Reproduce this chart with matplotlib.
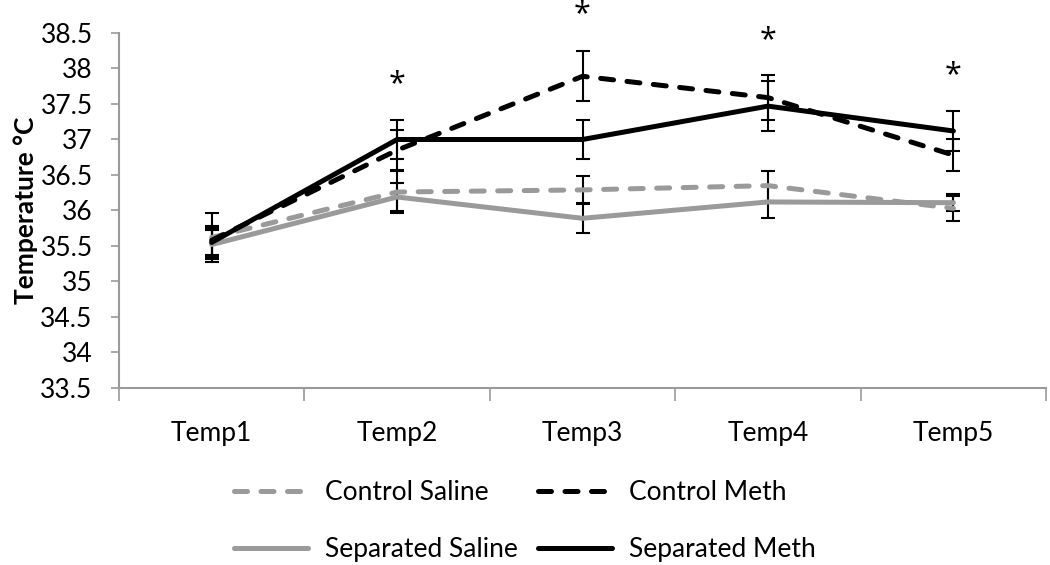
import matplotlib.pyplot as plt

# ---- data ----
categories = ['Temp1', 'Temp2', 'Temp3', 'Temp4', 'Temp5']
control_saline = [35.62, 36.26, 36.29, 36.35, 36.03]
control_saline_err = [0.35, 0.30, 0.20, 0.21, 0.18]
control_meth = [35.58, 36.85, 37.89, 37.59, 36.78]
control_meth_err = [0.20, 0.28, 0.35, 0.32, 0.23]
separated_saline = [35.52, 36.19, 35.89, 36.12, 36.11]
separated_saline_err = [0.20, 0.20, 0.21, 0.23, 0.12]
separated_meth = [35.55, 37.00, 37.00, 37.47, 37.12]
separated_meth_err = [0.20, 0.28, 0.28, 0.35, 0.28]
star_idx = [1, 2, 3, 4]
star_y = [37.78, 38.76, 38.40, 37.90]

GRAY = '#9a9a9a'
FS = 19
plt.rcParams['font.family'] = ['Lato', 'DejaVu Sans']

fig = plt.figure(figsize=(10.5, 5.65), dpi=100)
ax = fig.add_axes([0.1133, 0.3133, 0.883, 0.6283])

x = list(range(len(categories)))
dash = (0, (2.6, 2.7))
series = [
    (control_saline, control_saline_err, GRAY, dash, 'Control Saline'),
    (control_meth, control_meth_err, 'black', dash, 'Control Meth'),
    (separated_saline, separated_saline_err, GRAY, '-', 'Separated Saline'),
    (separated_meth, separated_meth_err, 'black', '-', 'Separated Meth'),
]
handles = {}
for vals, errs, col, ls, lab in series:
    ax.errorbar(x, vals, yerr=errs, fmt='none', ecolor='black',
                elinewidth=1.5, capsize=4.7, capthick=1.5, zorder=2)
    ln, = ax.plot(x, vals, color=col, linestyle=ls, linewidth=3.6,
                  dash_capstyle='round', solid_capstyle='round',
                  label=lab, zorder=3)
    handles[lab] = ln

# significance stars
for i, yv in zip(star_idx, star_y):
    ax.text(x[i], yv, '*', ha='center', va='center', fontsize=22,
            family=['Open Sans', 'DejaVu Sans'], clip_on=False)

ax.set_xlim(-0.5, len(categories) - 0.5)
ax.set_ylim(33.5, 38.5)
ax.set_yticks([33.5 + 0.5 * k for k in range(11)])
ax.set_yticklabels(['%g' % (33.5 + 0.5 * k) for k in range(11)])
ax.set_xticks(x)
ax.set_xticklabels(categories)
ax.set_xticks([k - 0.5 for k in range(len(categories) + 1)], minor=True)
ax.tick_params(axis='x', which='major', length=0, pad=24, labelsize=FS)
ax.tick_params(axis='x', which='minor', length=9, width=1.2, color=GRAY,
               direction='out')
ax.tick_params(axis='y', length=6, width=1.2, color=GRAY, labelsize=FS,
               pad=13)

for s in ['top', 'right']:
    ax.spines[s].set_visible(False)
for s in ['left', 'bottom']:
    ax.spines[s].set_color(GRAY)
    ax.spines[s].set_linewidth(1.5)

ax.set_ylabel('Temperature °C', fontsize=FS, fontweight='bold', labelpad=2)

# legend is filled column by column, so order gives rows CS/CM, SS/SM
order = ['Control Saline', 'Separated Saline', 'Control Meth', 'Separated Meth']
fig.legend(handles=[handles[k] for k in order], loc='center',
           bbox_to_anchor=(0.50, 0.078), ncol=2, frameon=False,
           fontsize=FS, handlelength=2.8, handletextpad=0.65,
           columnspacing=0.75, labelspacing=1.2)

fig.savefig('out.png', dpi=100)
